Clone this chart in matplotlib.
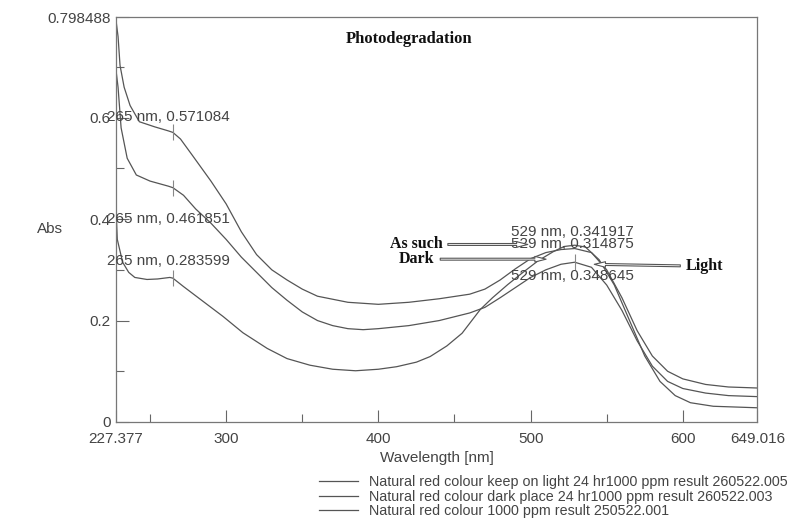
import numpy as np
import matplotlib
matplotlib.use('Agg')
import matplotlib.pyplot as plt

# spectra (wavelength nm, absorbance)
wl_light = [227.4, 229, 230.3, 233, 236.9, 243, 253, 262, 265, 270, 278, 290, 300, 310, 320,
            330, 340, 350, 360, 380, 400, 420, 440, 460, 470, 480, 490, 500, 510, 520, 529,
            540, 550, 560, 570, 580, 590, 600, 615, 630, 649]
abs_light = [0.798, 0.76, 0.703, 0.66, 0.624, 0.592, 0.582, 0.574, 0.571, 0.558, 0.525, 0.475,
             0.43, 0.375, 0.33, 0.30, 0.28, 0.262, 0.248, 0.236, 0.232, 0.236, 0.243, 0.252,
             0.262, 0.28, 0.302, 0.322, 0.334, 0.340, 0.342, 0.334, 0.30, 0.245, 0.18, 0.13,
             0.10, 0.085, 0.074, 0.069, 0.067]

wl_dark = [227.4, 229, 231, 235, 241, 250, 262, 265, 272, 280, 290, 300, 310, 320, 330, 340,
           350, 360, 370, 380, 390, 400, 420, 440, 460, 470, 480, 490, 500, 510, 520, 529,
           540, 550, 560, 570, 580, 590, 600, 615, 630, 649]
abs_dark = [0.70, 0.66, 0.58, 0.52, 0.487, 0.475, 0.465, 0.462, 0.447, 0.42, 0.392, 0.36,
            0.325, 0.295, 0.265, 0.24, 0.217, 0.20, 0.19, 0.184, 0.182, 0.184, 0.19, 0.20,
            0.215, 0.226, 0.245, 0.265, 0.285, 0.30, 0.311, 0.315, 0.305, 0.27, 0.22, 0.16,
            0.11, 0.08, 0.066, 0.057, 0.052, 0.05]

wl_such = [227.4, 228.5, 232, 236, 240, 248, 255, 263, 265, 272, 283, 298, 311, 327, 340, 355,
           370, 385, 400, 412, 425, 434, 445, 455, 467, 475, 485, 495, 505, 515, 522, 529,
           536, 545, 555, 565, 575, 585, 595, 605, 620, 649]
abs_such = [0.44, 0.36, 0.315, 0.295, 0.285, 0.281, 0.282, 0.285, 0.2836, 0.267, 0.242, 0.208,
            0.176, 0.145, 0.125, 0.112, 0.104, 0.101, 0.104, 0.109, 0.118, 0.129, 0.15, 0.175,
            0.222, 0.245, 0.271, 0.295, 0.318, 0.336, 0.346, 0.3486, 0.345, 0.32, 0.27, 0.20,
            0.13, 0.08, 0.052, 0.038, 0.031, 0.028]

labels = ["Natural red colour keep on light 24 hr1000 ppm result 260522.005",
          "Natural red colour dark place 24 hr1000 ppm result 260522.003",
          "Natural red colour 1000 ppm result 250522.001"]

peak_uv = [0.571084, 0.461851, 0.283599]
peak_vis = [0.341917, 0.314875, 0.348645]

xmin, xmax = 227.377, 649.016
ymax = 0.798488

plt.rcParams['font.family'] = ['Liberation Sans', 'DejaVu Sans']
txt = '#444444'
line_c = '#555555'

fig = plt.figure(figsize=(7.89, 5.22), dpi=100)
ax = fig.add_axes([0.1465, 0.1916, 0.8135, 0.7758])

series = [(wl_light, abs_light), (wl_dark, abs_dark), (wl_such, abs_such)]
for (w, a), lab in zip(series, labels):
    ax.plot(w, a, color=line_c, lw=0.9, label=lab)

# small cursor marks at the picked peaks
for u in peak_uv:
    ax.plot([265], [u], marker='|', ms=11, color='#888888', mew=0.8)
ax.plot([529], [peak_vis[1]], marker='|', ms=11, color='#888888', mew=0.8)

ax.set_xlim(xmin, xmax)
ax.set_ylim(0, ymax)
ax.set_xticks([xmin, 300, 400, 500, 600, xmax])
ax.set_xticklabels(["227.377", "300", "400", "500", "600", "649.016"])
ax.set_xticks([250, 350, 450, 550], minor=True)
ax.set_yticks([0, 0.2, 0.4, 0.6, ymax])
ax.set_yticklabels(["0", "0.2", "0.4", "0.6", "0.798488"])
ax.set_yticks([0.1, 0.3, 0.5, 0.7], minor=True)
ax.tick_params(which='both', direction='in', colors='#666666', labelcolor=txt,
               labelsize=11, width=0.8)
ax.tick_params(which='major', length=9)
ax.tick_params(which='minor', length=6)
ax.tick_params(axis='x', pad=7)
for s in ax.spines.values():
    s.set_color('#777777')
    s.set_linewidth(0.9)

ax.set_xlabel("Wavelength [nm]", fontsize=11, color=txt, labelpad=4)
fig.text(0.063, 0.561, "Abs", fontsize=11, color=txt, ha='center', va='center')

ax.text(420, 0.755, "Photodegradation", fontsize=12, fontweight='bold',
        family='Liberation Serif', ha='center', va='center', color='#111111')

# peak labels
uv_y = [0.602, 0.40, 0.317]
for u, yy in zip(peak_uv, uv_y):
    ax.text(221.5, yy, f"265 nm, {u:.6f}", fontsize=11, color=txt, va='center',
            clip_on=False)
vis_y = [0.374, 0.350, 0.287]
for v, yy in zip(peak_vis, vis_y):
    ax.text(487, yy, f"529 nm, {v:.6f}", fontsize=11, color=txt, va='center')

# arrows to the curves
serif = dict(fontsize=11.5, fontweight='bold', family='Liberation Serif', color='#111111',
             va='center')
arrow = dict(arrowstyle='simple,head_length=0.7,head_width=0.35,tail_width=0.12',
             fc='white', ec='#555555', lw=0.8)
ax.annotate("As such", xy=(500, 0.350), xytext=(442, 0.350), ha='right',
            arrowprops=arrow, **serif)
ax.annotate("Dark", xy=(512, 0.321), xytext=(437, 0.321), ha='right',
            arrowprops=arrow, **serif)
ax.annotate("Light", xy=(540, 0.311), xytext=(602, 0.307), ha='left',
            arrowprops=arrow, **serif)

fig.legend(loc='upper left', bbox_to_anchor=(0.395, 0.104), frameon=False,
           fontsize=10.3, handlelength=2.75, labelspacing=0.05, borderpad=0,
           handletextpad=0.75, labelcolor=txt)

fig.savefig("out.png", dpi=100)
